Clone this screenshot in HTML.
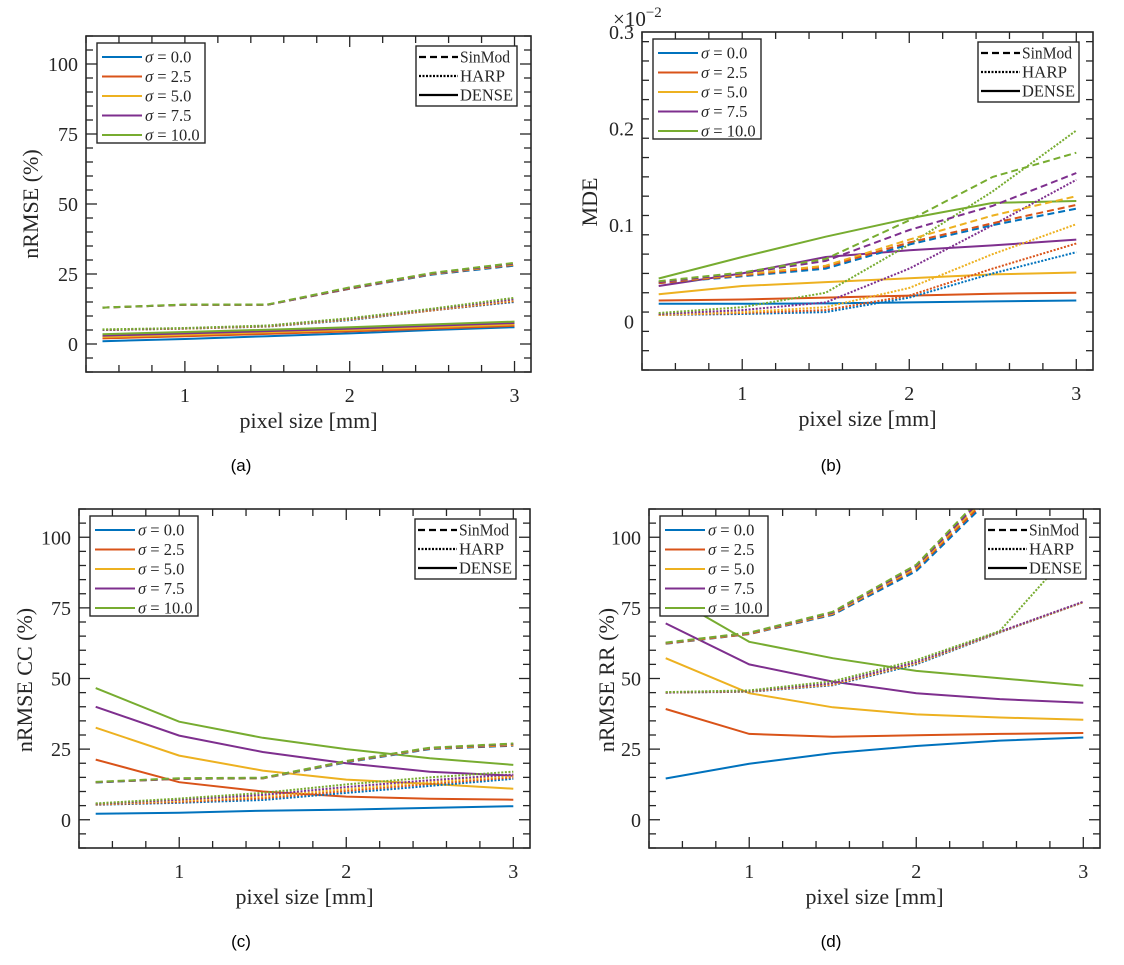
<!DOCTYPE html>
<html><head><meta charset="utf-8"><style>
body{margin:0;background:#fff;width:1124px;height:965px;overflow:hidden}
svg{display:block;font-family:"Liberation Serif",serif}
.cap{font-family:"Liberation Sans",sans-serif;font-size:17px}
</style></head><body>
<svg id="fig" width="1124" height="965" viewBox="0 0 1124 965"></svg>
<script>
const xs=[0.5,1,1.5,2,2.5,3];
const sigmaLabels=["0.0","2.5","5.0","7.5","10.0"];
const colors=["#0072BD","#D95319","#EDB120","#7E2F8E","#77AC30"];
const xTicks=[1,2,3];
const yTicksPct=[0,25,50,75,100];
const yTickLabelsPct=["0","25","50","75","100"];
const yTicksMde=[0,0.1,0.2,0.3];
const yTickLabelsMde=["0","0.1","0.2","0.3"];
// (a) nRMSE
const aDense=[[1,1.8,2.8,3.8,5,6],[2,2.8,3.6,4.5,5.5,6.5],[2.5,3.3,4.2,5,6,7],[3,3.8,4.6,5.5,6.5,7.5],[3.5,4.3,5.1,6,7,8]];
const aHarp=[[5,5.5,6.2,8.5,12,15],[5,5.5,6.3,8.7,12,15.3],[5,5.5,6.4,8.8,12.2,15.6],[5,5.6,6.5,9,12.4,16],[5.2,5.7,6.6,9.2,12.6,16.5]];
const aSin=[[13,14,14,19.7,24.8,28],[13,14,14,19.8,25,28.3],[13,14,14,20,25.1,28.5],[13,14,14,20,25.2,28.7],[13,14.1,14.1,20.2,25.4,29]];
// (b) MDE
const bDense=[[0.0185,0.0185,0.019,0.02,0.021,0.022],[0.022,0.023,0.025,0.027,0.029,0.030],[0.0285,0.037,0.041,0.045,0.049,0.051],[0.037,0.05,0.067,0.074,0.079,0.085],[0.0447,0.067,0.088,0.107,0.123,0.125]];
const bHarp=[[0.007,0.008,0.01,0.025,0.05,0.072],[0.007,0.009,0.012,0.027,0.055,0.081],[0.007,0.01,0.015,0.035,0.07,0.101],[0.008,0.012,0.02,0.055,0.1,0.147],[0.009,0.015,0.03,0.08,0.135,0.198]];
const bSin=[[0.04,0.047,0.055,0.08,0.1,0.117],[0.04,0.048,0.057,0.082,0.102,0.121],[0.041,0.049,0.058,0.085,0.11,0.13],[0.041,0.05,0.063,0.095,0.12,0.154],[0.042,0.051,0.065,0.105,0.15,0.175]];
// (c) nRMSE CC
const cDense=[[2.1,2.5,3.2,3.6,4.2,4.8],[21.3,13.3,10,8.2,7.4,7.1],[32.6,22.7,17.4,14.2,12.7,11],[40,29.8,24,20,17,15.6],[46.6,34.7,29,25,21.8,19.4]];
const cHarp=[[5.3,6,7,9.5,12,14.5],[5.4,6.3,7.6,10.2,12.7,15],[5.5,6.7,8.2,10.8,13.3,15.5],[5.6,7.1,8.8,11.6,14,16],[5.8,7.5,9.5,12.5,15,17]];
const cSin=[[13.2,14.5,14.6,20.3,25,26.2],[13.3,14.5,14.7,20.5,25.2,26.4],[13.3,14.6,14.7,20.6,25.3,26.6],[13.3,14.6,14.8,20.7,25.4,26.8],[13.4,14.7,14.9,20.8,25.5,27]];
// (d) nRMSE RR
const dDense=[[14.6,19.8,23.6,26.1,28,29.1],[39.2,30.4,29.4,29.9,30.4,30.7],[57.2,44.8,39.8,37.3,36.2,35.4],[69.5,55,48.9,44.8,42.7,41.4],[80,63,57.2,52.7,50.1,47.5]];
const dHarp=[[45,45.3,47.6,55,66.3,77],[45,45.4,47.8,55.3,66.4,77],[45,45.5,48,55.5,66.5,77],[45,45.6,48.3,55.8,66.6,77.2],[45.2,45.8,49,56.5,66.8,100]];
const dSin=[[62.3,65.7,72.5,88,117,150],[62.4,65.8,72.8,88.8,118,151],[62.5,66,73,89.3,119,152],[62.6,66.1,73.3,89.8,120,153],[62.7,66.2,73.6,90.3,121,154]];

const NS="http://www.w3.org/2000/svg";
const fig=document.getElementById('fig');
function mk(tag,attrs,parent){const e=document.createElementNS(NS,tag);for(const k in attrs)e.setAttribute(k,attrs[k]);(parent||fig).appendChild(e);return e;}

function panel(p){
  const g=mk('g',{});
  
  
  const X=v=>p.L+(v-0.4)/(2.7)*(p.R-p.L);
  const Y=v=>p.B-(v-p.ymin)/(p.ymax-p.ymin)*(p.B-p.T);
  const cid='clip-'+p.name;
  const cp=mk('clipPath',{id:cid},g);
  mk('rect',{x:p.L,y:p.T,width:p.R-p.L,height:p.B-p.T},cp);
  const lines=mk('g',{'clip-path':'url(#'+cid+')'},g);
  const styles=[[p.dense,'none','solid'],[p.harp,'2,1.6','harp'],[p.sin,'7,4','sinmod']];
  styles.forEach(([data,dash,nm])=>{
    data.forEach((ser,i)=>{
      const d=ser.map((v,j)=>(j?'L':'M')+X(xs[j]).toFixed(1)+','+Y(v).toFixed(1)).join(' ');
      const pl=mk('path',{d:d,fill:'none',stroke:colors[i],'stroke-width':2,'stroke-dasharray':dash},lines);
      
      
    });
  });
  const fr=mk('rect',{x:p.L,y:p.T,width:p.R-p.L,height:p.B-p.T,fill:'none',stroke:'#262626','stroke-width':1.6},g);
  
  
  for(let v=0.4;v<=3.101;v+=0.2){
    const major=Math.abs(v-Math.round(v))<1e-6;const len=major?11:7;const x=X(v);
    mk('line',{x1:x,x2:x,y1:p.B,y2:p.B-len,stroke:'#262626','stroke-width':1.3},g);
    mk('line',{x1:x,x2:x,y1:p.T,y2:p.T+len,stroke:'#262626','stroke-width':1.3},g);
  }
  xTicks.forEach(v=>{const t=mk('text',{x:X(v),y:p.B+30,'text-anchor':'middle','font-size':20,fill:'#262626'},g);t.textContent=v;
    });
  for(let v=p.ymin;v<=p.ymax+1e-9;v+=p.minor){
    const major=Math.abs(v/p.major-Math.round(v/p.major))<1e-6;const len=major?11:7;const y=Y(v);
    mk('line',{x1:p.L,x2:p.L+len,y1:y,y2:y,stroke:'#262626','stroke-width':1.3},g);
    mk('line',{x1:p.R,x2:p.R-len,y1:y,y2:y,stroke:'#262626','stroke-width':1.3},g);
  }
  p.yt.forEach((v,i)=>{const t=mk('text',{x:p.L-8,y:Y(v)+7,'text-anchor':'end','font-size':20,fill:'#262626'},g);t.textContent=p.ytl[i];
    });
  const xl=mk('text',{x:(p.L+p.R)/2,y:p.B+56,'text-anchor':'middle','font-size':22,fill:'#262626'},g);xl.textContent='pixel size [mm]';
  
  const yl=mk('text',{x:p.ylx,y:p.yly,'text-anchor':'middle','font-size':22,fill:'#262626',transform:'rotate(-90 '+p.ylx+' '+p.yly+')'},g);yl.textContent=p.ylabel;
  
  const lg=mk('g',{},g);
  mk('rect',{x:p.L+11,y:p.T+7,width:108,height:100,fill:'#fff',stroke:'#262626','stroke-width':1.4},lg);
  sigmaLabels.forEach((s,i)=>{const y=p.T+21+i*19.5;
    const ln=mk('line',{x1:p.L+16,x2:p.L+56,y1:y,y2:y,stroke:colors[i],'stroke-width':2},lg);
    
    const t=mk('text',{x:p.L+59,y:y+5.5,'font-size':16.5,fill:'#262626'},lg);
    t.innerHTML='<tspan font-style="italic">σ</tspan> = '+s;
    });
  const mg=mk('g',{},g);
  const mx=p.R-115;
  mk('rect',{x:mx,y:p.T+10,width:101,height:60,fill:'#fff',stroke:'#262626','stroke-width':1.4},mg);
  [['SinMod','7,4',50],['HARP','2,1.5',45],['DENSE','none',53]].forEach(([n,d,w],i)=>{const y=p.T+21+i*19;
    mk('line',{x1:mx+3,x2:mx+42,y1:y,y2:y,stroke:'#000','stroke-width':2.2,'stroke-dasharray':d},mg);
    const t=mk('text',{x:mx+44,y:y+5.5,'font-size':16.5,fill:'#262626',textLength:w,lengthAdjust:'spacingAndGlyphs'},mg);t.textContent=n;
    });
  const c=mk('text',{x:p.capx,y:p.capy,'text-anchor':'middle',class:'cap',fill:'#000'},g);c.textContent=p.cap;
  
  return Y;
}
panel({name:'panel-a',L:86,R:531,T:36,B:372,ymin:-10,ymax:110,minor:5,major:25,yt:yTicksPct,ytl:yTickLabelsPct,
  dense:aDense,harp:aHarp,sin:aSin,ylabel:'nRMSE (%)',ylx:38,yly:204,cap:'(a)',capx:241,capy:471});
panel({name:'panel-b',L:642,R:1093,T:32,B:370,ymin:-0.05,ymax:0.3,minor:0.02,major:0.1,yt:yTicksMde,ytl:yTickLabelsMde,
  dense:bDense,harp:bHarp,sin:bSin,ylabel:'MDE',ylx:597,yly:202,cap:'(b)',capx:831,capy:471});
panel({name:'panel-c',L:79,R:530,T:509,B:848,ymin:-10,ymax:110,minor:5,major:25,yt:yTicksPct,ytl:yTickLabelsPct,
  dense:cDense,harp:cHarp,sin:cSin,ylabel:'nRMSE CC (%)',ylx:32,yly:680,cap:'(c)',capx:241,capy:947});
panel({name:'panel-d',L:649,R:1100,T:509,B:848,ymin:-10,ymax:110,minor:5,major:25,yt:yTicksPct,ytl:yTickLabelsPct,
  dense:dDense,harp:dHarp,sin:dSin,ylabel:'nRMSE RR (%)',ylx:614,yly:680,cap:'(d)',capx:831,capy:947});
const ex=mk('text',{x:613,y:26,'font-size':21,fill:'#262626'});
ex.innerHTML='×10<tspan dy="-9" font-size="15">−2</tspan>';


</script>
</body></html>
